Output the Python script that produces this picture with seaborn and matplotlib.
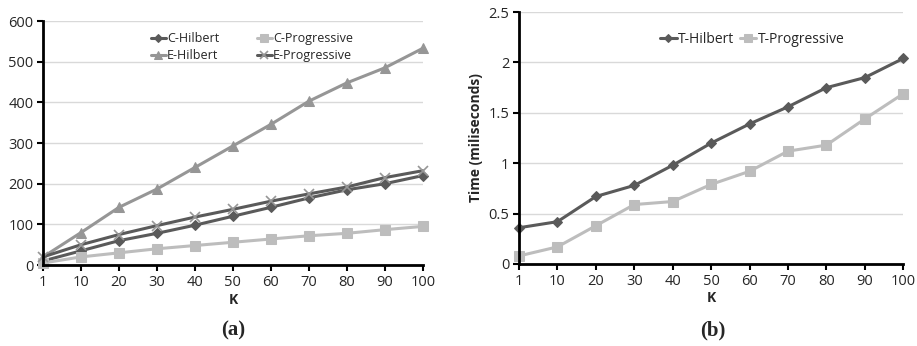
import numpy as np
import pandas as pd
import matplotlib
matplotlib.use("Agg")
import matplotlib.pyplot as plt
import seaborn as sns

# data
k_labels = ["1", "10", "20", "30", "40", "50", "60", "70", "80", "90", "100"]
c_hilbert = [10, 35, 60, 78, 98, 120, 142, 165, 185, 200, 220]
c_progressive = [5, 20, 30, 40, 48, 56, 64, 72, 78, 87, 95]
e_hilbert = [20, 80, 142, 187, 240, 293, 346, 403, 448, 485, 533]
e_progressive = [20, 50, 75, 97, 118, 137, 157, 175, 192, 215, 232]
t_hilbert = [0.36, 0.42, 0.67, 0.78, 0.98, 1.20, 1.39, 1.56, 1.75, 1.85, 2.04]
t_progressive = [0.08, 0.17, 0.38, 0.59, 0.62, 0.79, 0.92, 1.12, 1.18, 1.44, 1.69]

sns.set_theme(style="white")
plt.rcParams["font.family"] = ["Open Sans", "DejaVu Sans"]
plt.rcParams["font.size"] = 9.5

DARK = "#5a5a5a"
LIGHT = "#bdbdbd"
MID = "#969696"

pos = np.arange(len(k_labels))

fig = plt.figure(figsize=(9.17, 3.46), dpi=100)
ax1 = fig.add_axes([0.047, 0.234, 0.414, 0.705])
ax2 = fig.add_axes([0.566, 0.237, 0.419, 0.728])


def style_axis(ax, ymax, ystep):
    ax.set_xlim(0, len(k_labels) - 1)
    ax.set_ylim(0, ymax)
    ax.set_xticks(pos)
    ax.set_xticklabels(k_labels)
    ax.set_yticks(np.arange(0, ymax + ystep / 2, ystep))
    ax.yaxis.grid(True, color="#d9d9d9", linewidth=1)
    ax.set_axisbelow(True)
    for s in ["top", "right"]:
        ax.spines[s].set_visible(False)
    for s in ["left", "bottom"]:
        ax.spines[s].set_color("black")
        ax.spines[s].set_linewidth(2)
    ax.tick_params(axis="both", direction="out", length=4, width=1.5,
                   color="black", labelsize=10.5, pad=3)
    ax.tick_params(axis="x", bottom=True)
    ax.tick_params(axis="y", left=True)
    ax.set_xlabel("K", fontweight="bold", fontsize=10, labelpad=2)


# panel (a)
series_a = [
    ("C-Hilbert", c_hilbert, DARK, "D", 5),
    ("E-Hilbert", e_hilbert, MID, "^", 7),
    ("C-Progressive", c_progressive, LIGHT, "s", 7),
    ("E-Progressive", e_progressive, DARK, "x", 7),
]
for name, vals, col, mk, ms in series_a:
    df = pd.DataFrame({"pos": pos, "val": vals})
    kw = dict(markeredgecolor=MID, markeredgewidth=1.2) if mk == "x" else dict(markeredgecolor=col)
    sns.lineplot(data=df, x="pos", y="val", ax=ax1, color=col, marker=mk,
                 markersize=ms, linewidth=2.2, label=name, clip_on=False, **kw)
style_axis(ax1, 600, 100)
ax1.set_ylabel("")
ax1.legend(ncol=2, loc="upper center", bbox_to_anchor=(0.55, 1.0), frameon=False,
           fontsize=9, handlelength=1.2, handletextpad=0.1, columnspacing=3,
           labelspacing=0.3, markerscale=0.8)

# panel (b)
series_b = [
    ("T-Hilbert", t_hilbert, DARK, "D", 5),
    ("T-Progressive", t_progressive, LIGHT, "s", 7),
]
for name, vals, col, mk, ms in series_b:
    df = pd.DataFrame({"pos": pos, "val": vals})
    sns.lineplot(data=df, x="pos", y="val", ax=ax2, color=col, marker=mk,
                 markersize=ms, linewidth=2.2, label=name, clip_on=False,
                 markeredgecolor=col)
style_axis(ax2, 2.5, 0.5)
ax2.set_yticklabels(["0", "0.5", "1", "1.5", "2", "2.5"])
ax2.set_ylabel("Time (miliseconds)", fontweight="bold", fontsize=10, labelpad=4)
ax2.legend(ncol=2, loc="upper right", bbox_to_anchor=(0.88, 0.97), frameon=False,
           fontsize=10, handlelength=1.2, handletextpad=0.1, columnspacing=0.4,
           markerscale=0.8)

fig.text(0.254, 0.03, "(a)", ha="center", fontsize=15, fontweight="bold",
         family=["Liberation Serif", "DejaVu Serif"])
fig.text(0.777, 0.03, "(b)", ha="center", fontsize=15, fontweight="bold",
         family=["Liberation Serif", "DejaVu Serif"])

fig.savefig("out.png", dpi=100)
